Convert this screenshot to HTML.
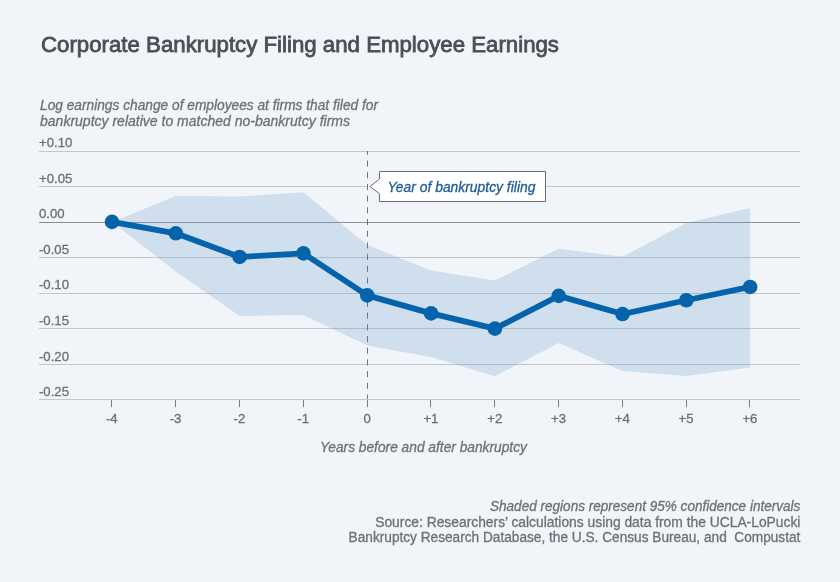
<!DOCTYPE html>
<html><head><meta charset="utf-8"><style>
html,body{margin:0;padding:0;background:#f1f5f9;}
svg{display:block;will-change:transform;font-family:"Liberation Sans",sans-serif;}
</style></head><body>
<svg width="840" height="582" viewBox="0 0 840 582">
<rect width="840" height="582" fill="#f1f5f9"/>
<text x="41" y="51.6" font-size="22" fill="#4b4f55" stroke="#4b4f55" stroke-width="0.8" textLength="518" lengthAdjust="spacingAndGlyphs">Corporate Bankruptcy Filing and Employee Earnings</text>
<g font-style="italic" font-size="14" fill="#6d7076" stroke="#6d7076" stroke-width="0.3">
<text x="40" y="109.8" textLength="338" lengthAdjust="spacingAndGlyphs">Log earnings change of employees at firms that filed for</text>
<text x="40" y="126.2" textLength="310" lengthAdjust="spacingAndGlyphs">bankruptcy relative to matched no-bankrutcy firms</text>
</g>
<rect x="39" y="151" width="761" height="1" fill="#c3c6ca"/>
<rect x="39" y="186" width="761" height="1" fill="#c3c6ca"/>
<rect x="39" y="222" width="761" height="1" fill="#8c9095"/>
<rect x="39" y="257" width="761" height="1" fill="#c3c6ca"/>
<rect x="39" y="293" width="761" height="1" fill="#c3c6ca"/>
<rect x="39" y="328" width="761" height="1" fill="#c3c6ca"/>
<rect x="39" y="364" width="761" height="1" fill="#c3c6ca"/>
<rect x="39" y="399" width="761" height="1" fill="#c3c6ca"/>
<polygon points="112.00,222.00 175.81,196.00 239.63,196.60 303.44,192.20 367.26,245.00 431.07,270.50 494.89,280.50 558.70,248.70 622.52,256.75 686.34,223.00 750.15,208.10 750.15,367.50 686.34,376.00 622.52,371.00 558.70,343.10 494.89,376.20 431.07,357.00 367.26,345.50 303.44,315.00 239.63,316.00 175.81,271.50 112.00,222.00" fill="rgb(109,161,205)" fill-opacity="0.25"/>
<g fill="#6b6e73" stroke="#6b6e73" stroke-width="0.3" font-size="13.6">
<text x="39" y="147" transform="matrix(0.97,0,0,1,1.170,0)">+0.10</text>
<text x="39" y="183" transform="matrix(0.97,0,0,1,1.170,0)">+0.05</text>
<text x="39" y="218" transform="matrix(0.97,0,0,1,1.170,0)">0.00</text>
<text x="39" y="254" transform="matrix(0.97,0,0,1,1.170,0)">-0.05</text>
<text x="39" y="289" transform="matrix(0.97,0,0,1,1.170,0)">-0.10</text>
<text x="39" y="325" transform="matrix(0.97,0,0,1,1.170,0)">-0.15</text>
<text x="39" y="361" transform="matrix(0.97,0,0,1,1.170,0)">-0.20</text>
<text x="39" y="396" transform="matrix(0.97,0,0,1,1.170,0)">-0.25</text>
<text x="111.8" y="422.9" text-anchor="middle" transform="matrix(0.97,0,0,1,3.354,0)">-4</text>
<text x="175.6" y="422.9" text-anchor="middle" transform="matrix(0.97,0,0,1,5.268,0)">-3</text>
<text x="239.4" y="422.9" text-anchor="middle" transform="matrix(0.97,0,0,1,7.183,0)">-2</text>
<text x="303.2" y="422.9" text-anchor="middle" transform="matrix(0.97,0,0,1,9.097,0)">-1</text>
<text x="367.1" y="422.9" text-anchor="middle" transform="matrix(0.97,0,0,1,11.012,0)">0</text>
<text x="430.9" y="422.9" text-anchor="middle" transform="matrix(0.97,0,0,1,12.926,0)">+1</text>
<text x="494.7" y="422.9" text-anchor="middle" transform="matrix(0.97,0,0,1,14.841,0)">+2</text>
<text x="558.5" y="422.9" text-anchor="middle" transform="matrix(0.97,0,0,1,16.755,0)">+3</text>
<text x="622.3" y="422.9" text-anchor="middle" transform="matrix(0.97,0,0,1,18.670,0)">+4</text>
<text x="686.1" y="422.9" text-anchor="middle" transform="matrix(0.97,0,0,1,20.584,0)">+5</text>
<text x="749.9" y="422.9" text-anchor="middle" transform="matrix(0.97,0,0,1,22.499,0)">+6</text>
</g>
<rect x="111" y="400" width="1" height="7" fill="#7a7e83"/>
<rect x="175" y="400" width="1" height="7" fill="#7a7e83"/>
<rect x="239" y="400" width="1" height="7" fill="#7a7e83"/>
<rect x="303" y="400" width="1" height="7" fill="#7a7e83"/>
<rect x="367" y="400" width="1" height="7" fill="#7a7e83"/>
<rect x="430" y="400" width="1" height="7" fill="#7a7e83"/>
<rect x="494" y="400" width="1" height="7" fill="#7a7e83"/>
<rect x="558" y="400" width="1" height="7" fill="#7a7e83"/>
<rect x="622" y="400" width="1" height="7" fill="#7a7e83"/>
<rect x="686" y="400" width="1" height="7" fill="#7a7e83"/>
<rect x="749" y="400" width="1" height="7" fill="#7a7e83"/>
<line x1="367.5" x2="367.5" y1="151" y2="399" stroke="#707378" stroke-width="1" stroke-dasharray="6 5.7" stroke-dashoffset="2.2"/>
<polyline points="112.00,221.90 175.81,233.30 239.63,256.96 303.44,253.40 367.26,295.40 431.07,313.40 494.89,328.66 558.70,295.85 622.52,314.05 686.34,300.26 750.15,286.96" fill="none" stroke="#0563ab" stroke-width="5.8" stroke-linejoin="round"/>
<g fill="#0563ab">
<circle cx="112.00" cy="221.90" r="7.3"/>
<circle cx="175.81" cy="233.30" r="7.3"/>
<circle cx="239.63" cy="256.96" r="7.3"/>
<circle cx="303.44" cy="253.40" r="7.3"/>
<circle cx="367.26" cy="295.40" r="7.3"/>
<circle cx="431.07" cy="313.40" r="7.3"/>
<circle cx="494.89" cy="328.66" r="7.3"/>
<circle cx="558.70" cy="295.85" r="7.3"/>
<circle cx="622.52" cy="314.05" r="7.3"/>
<circle cx="686.34" cy="300.26" r="7.3"/>
<circle cx="750.15" cy="286.96" r="7.3"/>
</g>
<rect x="368" y="186" width="11" height="1" fill="#f1f5f9"/>
<path d="M379.5,171.5 H545.5 V201.5 H379.5 V193.7 L370,186.5 L379.5,179 Z" fill="#fff" stroke="#6b6e73" stroke-width="1"/>
<text x="387.4" y="192.1" font-size="14" font-style="italic" fill="#1f5b97" stroke="#1f5b97" stroke-width="0.3" textLength="148" lengthAdjust="spacingAndGlyphs">Year of bankruptcy filing</text>
<g font-size="14" fill="#6d7076" stroke="#6d7076" stroke-width="0.3">
<text x="319.9" y="451.8" font-style="italic" textLength="207" lengthAdjust="spacingAndGlyphs">Years before and after bankruptcy</text>
<g text-anchor="end">
<text x="800.4" y="510.6" font-style="italic" textLength="310.4" lengthAdjust="spacingAndGlyphs">Shaded regions represent 95% confidence intervals</text>
<text x="800.4" y="526.8" textLength="425.2" lengthAdjust="spacingAndGlyphs">Source: Researchers’ calculations using data from the UCLA-LoPucki</text>
<text x="800.4" y="542.4" textLength="451.8" lengthAdjust="spacingAndGlyphs">Bankruptcy Research Database, the U.S. Census Bureau, and&#160; Compustat</text>
</g>
</g>
</svg>
</body></html>
